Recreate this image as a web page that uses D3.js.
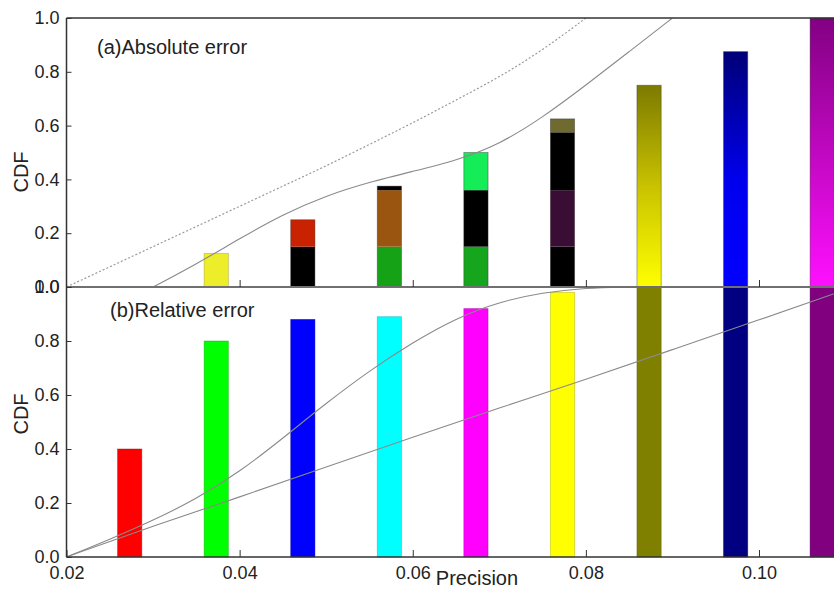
<!DOCTYPE html>
<html>
<head>
<meta charset="utf-8">
<script src="https://cdn.jsdelivr.net/npm/d3@7"></script>
<style>
  body { margin: 0; background: #fff; }
  svg { display: block; font-family: "Liberation Sans", Arial, sans-serif; }
</style>
</head>
<body>
<svg id="chart"></svg>
<script>
// ---- data ----
var xTicks = [0.02, 0.04, 0.06, 0.08, 0.10];
var yTicks = [0, 0.2, 0.4, 0.6, 0.8, 1.0];

// (a) absolute error: stacked bars (cumulative break points)
var topX = [0.0373, 0.0473, 0.0573, 0.0673, 0.0773, 0.0873, 0.0973, 0.1073];
var topBreaks = [
  [0.125],
  [0.15, 0.25],
  [0.15, 0.36, 0.375],
  [0.15, 0.36, 0.50],
  [0.15, 0.36, 0.575, 0.625],
  [0.75],
  [0.875],
  [1.0]
];
var topFills = [
  ["#eded2a"],
  ["#000000", "#c82200"],
  ["#16a216", "#9a5510", "#000000"],
  ["#16a61e", "#000000", "#14ec58"],
  ["#000000", "#3a0e34", "#000000", "#6e6a30"],
  ["url(#gOlive)"],
  ["url(#gBlue)"],
  ["url(#gMagenta)"]
];

// (a) curves
var absSolidX = [0.03, 0.035, 0.04, 0.045, 0.05, 0.055, 0.06, 0.065, 0.07, 0.075, 0.08, 0.085, 0.09];
var absSolidY = [0, 0.085, 0.18, 0.27, 0.34, 0.39, 0.43, 0.47, 0.53, 0.63, 0.75, 0.875, 1.0];
var absDotX = [0.02, 0.025, 0.03, 0.035, 0.04, 0.045, 0.05, 0.055, 0.06, 0.065, 0.07, 0.075, 0.08];
var absDotY = [0, 0.075, 0.15, 0.225, 0.30, 0.375, 0.45, 0.53, 0.61, 0.695, 0.78, 0.88, 1.0];

// (b) relative error bars
var botX = [0.0273, 0.0373, 0.0473, 0.0573, 0.0673, 0.0773, 0.0873, 0.0973, 0.1073];
var botY = [0.40, 0.80, 0.88, 0.89, 0.92, 0.98, 1.0, 1.0, 1.0];
var botFills = ["#ff0000", "#00ff00", "#0000ff", "#00ffff", "#ff00ff", "#ffff00", "#808000", "#000080", "#800080"];

// (b) curves
var relSteepX = [0.02, 0.025, 0.03, 0.035, 0.04, 0.045, 0.05, 0.055, 0.06, 0.065, 0.07, 0.075, 0.08, 0.085];
var relSteepY = [0, 0.065, 0.135, 0.215, 0.315, 0.44, 0.57, 0.69, 0.795, 0.885, 0.945, 0.98, 0.997, 1.0];
var relLinX = [0.02, 0.03, 0.04, 0.05, 0.06, 0.07, 0.08, 0.09, 0.10, 0.11];
var relLinY = [0, 0.115, 0.222, 0.333, 0.444, 0.552, 0.658, 0.768, 0.878, 0.99];

// ---- layout ----
var W = 834, H = 590;
var barHalf = 0.0014;

var svg = d3.select("#chart").attr("width", W).attr("height", H);

var x = d3.scaleLinear().domain([0.02, 0.10]).range([66.5, 759]);
var yTop = d3.scaleLinear().domain([0, 1]).range([287, 18]);
var yBot = d3.scaleLinear().domain([0, 1]).range([557, 287]);

var defs = svg.append("defs");
function grad(id, stops) {
  var g = defs.append("linearGradient").attr("id", id)
    .attr("x1", 0).attr("y1", 0).attr("x2", 0).attr("y2", 1);
  stops.forEach(s => g.append("stop").attr("offset", s[0]).attr("stop-color", s[1]));
}
grad("gOlive", [[0, "#7c7a00"], [0.5, "#c8c200"], [1, "#ffff00"]]);
grad("gBlue", [[0, "#000078"], [0.55, "#0000ee"], [1, "#0000ff"]]);
grad("gMagenta", [[0, "#820082"], [1, "#ff10ff"]]);

defs.append("clipPath").attr("id", "clipTop").append("rect")
  .attr("x", x(0.02)).attr("y", yTop(1)).attr("width", W - x(0.02)).attr("height", yTop(0) - yTop(1));
defs.append("clipPath").attr("id", "clipBot").append("rect")
  .attr("x", x(0.02)).attr("y", yBot(1)).attr("width", W - x(0.02)).attr("height", yBot(0) - yBot(1));

// ---- bottom panel bars ----
var gBot = svg.append("g");
gBot.selectAll("rect")
  .data(botX)
  .enter().append("rect")
    .attr("x", d => x(d - barHalf))
    .attr("width", d => x(d + barHalf) - x(d - barHalf))
    .attr("y", (d, i) => yBot(botY[i]))
    .attr("height", (d, i) => yBot(0) - yBot(botY[i]))
    .attr("fill", (d, i) => botFills[i])
    .attr("stroke", (d, i) => d3.color(botFills[i]).darker(1.2))
    .attr("stroke-opacity", 0.5)
    .attr("stroke-width", 0.8);

// ---- top panel stacked bars ----
var gTop = svg.append("g");
topX.forEach(function(cx, i) {
  var brk = topBreaks[i];
  var segs = brk.map((v, j) => ({ y0: j === 0 ? 0 : brk[j - 1], y1: v, fill: topFills[i][j] }));
  gTop.append("g").selectAll("rect")
    .data(segs)
    .enter().append("rect")
      .attr("x", x(cx - barHalf))
      .attr("width", x(cx + barHalf) - x(cx - barHalf))
      .attr("y", d => yTop(d.y1))
      .attr("height", d => yTop(d.y0) - yTop(d.y1))
      .attr("fill", d => d.fill);
  gTop.append("rect")
    .attr("x", x(cx - barHalf))
    .attr("width", x(cx + barHalf) - x(cx - barHalf))
    .attr("y", yTop(brk[brk.length - 1]))
    .attr("height", yTop(0) - yTop(brk[brk.length - 1]))
    .attr("fill", "none")
    .attr("stroke", i === 0 ? "#9a9a30" : "#333")
    .attr("stroke-opacity", 0.5)
    .attr("stroke-width", 0.8);
});

// ---- curves ----
function drawCurve(xs, ys, yScale, clip, dash) {
  var pts = xs.map((v, i) => [v, ys[i]]);
  var line = d3.line().x(d => x(d[0])).y(d => yScale(d[1])).curve(d3.curveBasis);
  svg.append("path")
    .datum(pts)
    .attr("clip-path", "url(#" + clip + ")")
    .attr("d", line)
    .attr("fill", "none")
    .attr("stroke", dash ? "#9a9a9a" : "#8a8a8a")
    .attr("stroke-width", dash ? 1.2 : 1.1)
    .attr("stroke-dasharray", dash ? "2,2" : null);
}
drawCurve(absDotX, absDotY, yTop, "clipTop", true);
drawCurve(absSolidX, absSolidY, yTop, "clipTop", false);
drawCurve(relSteepX, relSteepY, yBot, "clipBot", false);
drawCurve(relLinX, relLinY, yBot, "clipBot", false);

// ---- frame ----
svg.append("line").attr("x1", x(0.02)).attr("x2", W).attr("y1", yTop(1)).attr("y2", yTop(1))
  .attr("stroke", "#333").attr("stroke-width", 1.5);
svg.append("line").attr("x1", x(0.02)).attr("x2", W).attr("y1", yTop(0)).attr("y2", yTop(0))
  .attr("stroke", "#707070").attr("stroke-width", 2);
svg.append("line").attr("x1", x(0.02)).attr("x2", W).attr("y1", yBot(0)).attr("y2", yBot(0))
  .attr("stroke", "#333").attr("stroke-width", 1.5);
svg.append("line").attr("x1", x(0.02)).attr("x2", x(0.02)).attr("y1", yTop(1)).attr("y2", yBot(0))
  .attr("stroke", "#333").attr("stroke-width", 1.5);

// ---- axes ----
function styleAxis(g) {
  g.select(".domain").remove();
  g.selectAll(".tick line").attr("stroke", "#333").attr("stroke-width", 1);
  g.selectAll(".tick text").attr("fill", "#222").style("font-size", "18px")
    .style("font-family", '"Liberation Sans", Arial, sans-serif');
}
var fmtY = d3.format(".1f");
svg.append("g").attr("transform", `translate(${x(0.02)},0)`)
  .call(d3.axisLeft(yTop).tickValues(yTicks).tickFormat(fmtY).tickSizeInner(-5).tickSizeOuter(0).tickPadding(7))
  .call(styleAxis);
svg.append("g").attr("transform", `translate(${x(0.02)},0)`)
  .call(d3.axisLeft(yBot).tickValues(yTicks).tickFormat(fmtY).tickSizeInner(-5).tickSizeOuter(0).tickPadding(7))
  .call(styleAxis);
svg.append("g").attr("transform", `translate(0,${yTop(0)})`)
  .call(d3.axisBottom(x).tickValues(xTicks.slice(1)).tickFormat("").tickSizeInner(-7).tickSizeOuter(0))
  .call(styleAxis);
svg.append("g").attr("transform", `translate(0,${yBot(0)})`)
  .call(d3.axisBottom(x).tickValues(xTicks).tickFormat(d3.format(".2f")).tickSizeInner(-7).tickSizeOuter(0).tickPadding(9))
  .call(styleAxis);

// ---- labels ----
svg.append("text").attr("x", 97).attr("y", 54)
  .style("font-size", "20px").attr("fill", "#222").text("(a)Absolute error");
svg.append("text").attr("x", 110).attr("y", 317)
  .style("font-size", "20px").attr("fill", "#222").text("(b)Relative error");
svg.append("text").attr("transform", "translate(28,172) rotate(-90)")
  .attr("text-anchor", "middle").style("font-size", "20px").attr("fill", "#222").text("CDF");
svg.append("text").attr("transform", "translate(28,414) rotate(-90)")
  .attr("text-anchor", "middle").style("font-size", "20px").attr("fill", "#222").text("CDF");
svg.append("text").attr("x", 477).attr("y", 585)
  .attr("text-anchor", "middle").style("font-size", "20px").attr("fill", "#222").text("Precision");
</script>
</body>
</html>
